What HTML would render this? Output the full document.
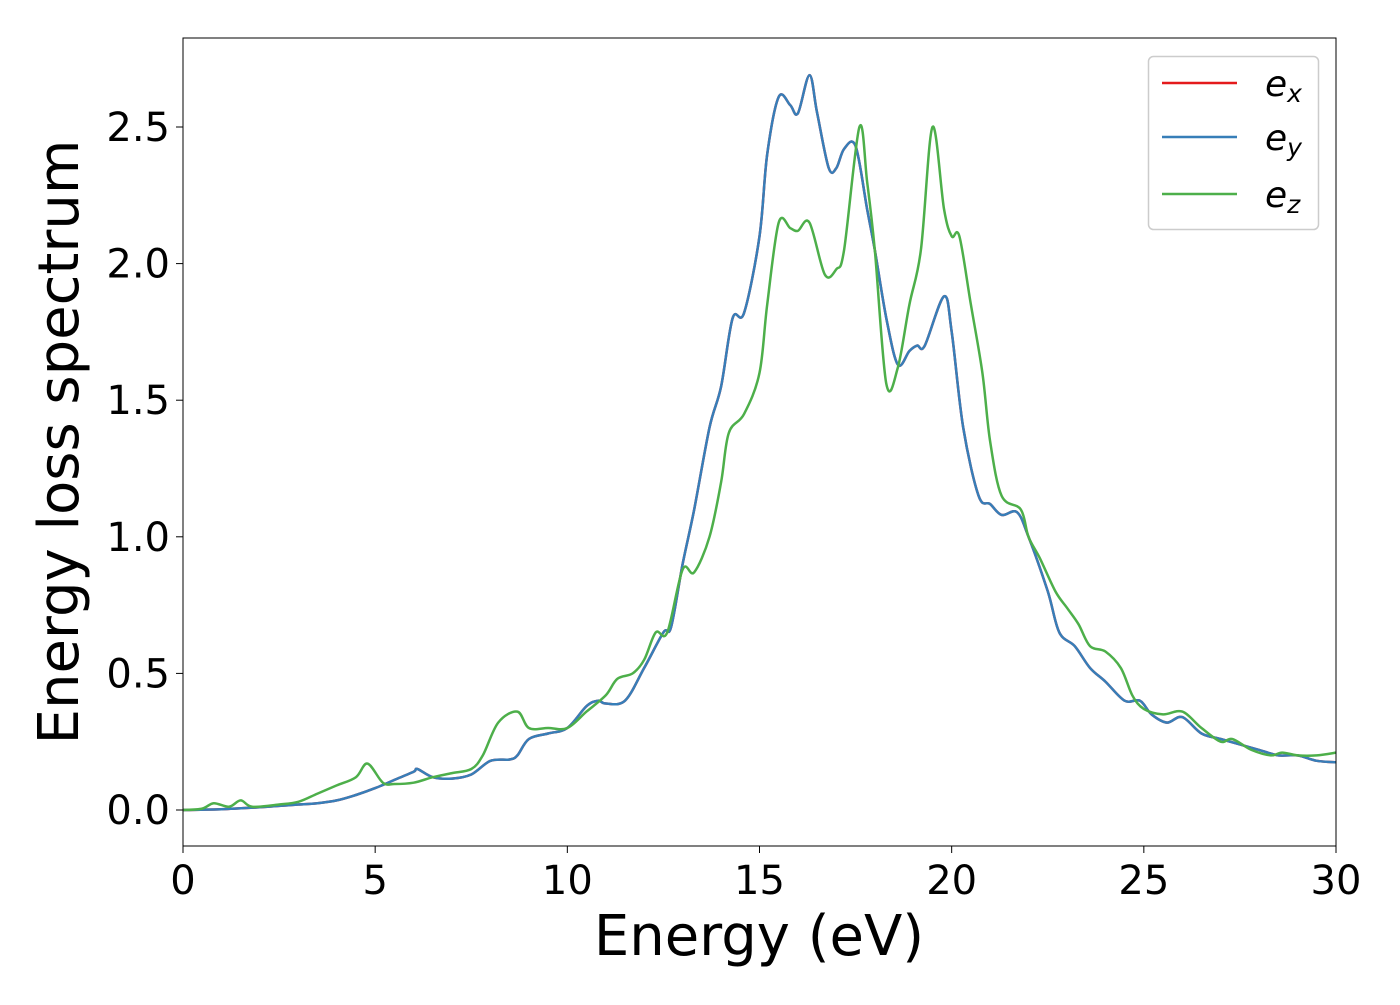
<!DOCTYPE html>
<html><head><meta charset="utf-8"><style>
html,body{margin:0;padding:0;background:#fff;}
svg text{font-family:"DejaVu Sans","Liberation Sans",sans-serif;}
</style></head><body>
<svg id="chart" width="1400" height="1000" xmlns="http://www.w3.org/2000/svg">
<rect x="0" y="0" width="1400" height="1000" fill="#fff"/>
<g id="plot"></g>
<rect x="183" y="38" width="1153" height="808" fill="none" stroke="#000" stroke-width="1"/>
<g id="xticks"></g>
<g id="yticks"></g>
<text x="759" y="955" font-size="56" text-anchor="middle">Energy (eV)</text>
<text transform="translate(78,442) rotate(-90)" font-size="56" text-anchor="middle">Energy loss spectrum</text>
<g>
<rect x="1148.5" y="56.5" width="170" height="173" rx="5" fill="#fff" fill-opacity="0.8" stroke="#ccc" stroke-width="1.5"/>
<g><line x1="1162" y1="83" x2="1237" y2="83" stroke="#e41a1c" stroke-width="2.5"/><text x="1265" y="96" font-size="36" font-style="italic">e<tspan font-size="25" dy="6">x</tspan></text></g>
<g><line x1="1162" y1="137" x2="1237" y2="137" stroke="#377eb8" stroke-width="2.5"/><text x="1265" y="150" font-size="36" font-style="italic">e<tspan font-size="25" dy="6">y</tspan></text></g>
<g><line x1="1162" y1="194" x2="1237" y2="194" stroke="#4daf4a" stroke-width="2.5"/><text x="1265" y="207" font-size="36" font-style="italic">e<tspan font-size="25" dy="6">z</tspan></text></g>
</g>
</svg>
<script>
const xTicks=[0,5,10,15,20,25,30];
const yTicks=[0.0,0.5,1.0,1.5,2.0,2.5];
const yTickLabels=["0.0","0.5","1.0","1.5","2.0","2.5"];
const exyX=[0,1,2,2.5,3,3.5,4,4.5,5,5.5,6,6.1,6.5,7,7.5,8,8.5,8.7,9,9.5,10,10.5,10.8,11,11.5,12,12.5,12.7,13,13.3,13.7,14,14.3,14.6,15,15.2,15.5,15.8,16,16.3,16.5,16.8,17,17.2,17.5,17.8,18,18.3,18.6,18.9,19.1,19.3,19.8,20,20.3,20.7,21,21.3,21.7,22,22.5,22.8,23.2,23.6,24,24.5,24.9,25.2,25.6,26,26.5,27,27.5,28,28.5,29,29.5,30];
const exyY=[0,0.003,0.01,0.015,0.02,0.025,0.035,0.055,0.08,0.11,0.14,0.15,0.12,0.115,0.13,0.18,0.185,0.2,0.26,0.28,0.3,0.38,0.4,0.39,0.4,0.52,0.65,0.67,0.9,1.1,1.4,1.55,1.8,1.82,2.1,2.4,2.61,2.58,2.55,2.69,2.55,2.35,2.35,2.42,2.43,2.2,2.05,1.8,1.63,1.68,1.7,1.7,1.88,1.75,1.4,1.15,1.12,1.08,1.09,1.0,0.8,0.65,0.6,0.52,0.47,0.4,0.4,0.35,0.32,0.34,0.28,0.26,0.24,0.22,0.2,0.2,0.18,0.175];
const ezX=[0,0.5,0.8,1.2,1.5,1.8,2.5,3,3.5,4,4.5,4.8,5.2,5.5,6,6.5,7,7.5,7.8,8.2,8.7,9,9.5,10,10.5,11,11.3,11.7,12,12.3,12.6,13,13.3,13.7,14,14.2,14.6,15,15.2,15.5,15.8,16,16.3,16.7,17,17.2,17.6,17.8,18,18.3,18.6,18.9,19.2,19.5,19.8,20,20.2,20.5,20.8,21,21.3,21.8,22,22.3,22.7,23,23.3,23.6,24,24.4,24.7,25,25.5,26,26.5,27,27.3,27.8,28.3,28.6,29,29.5,30];
const ezY=[0,0.005,0.025,0.012,0.035,0.012,0.02,0.03,0.06,0.09,0.12,0.17,0.1,0.095,0.1,0.12,0.135,0.15,0.2,0.32,0.36,0.3,0.3,0.3,0.36,0.42,0.48,0.5,0.55,0.65,0.65,0.88,0.87,1.0,1.2,1.38,1.45,1.6,1.85,2.15,2.13,2.12,2.15,1.96,1.98,2.05,2.5,2.3,2.05,1.56,1.62,1.85,2.05,2.5,2.2,2.1,2.1,1.85,1.6,1.35,1.15,1.1,1.0,0.92,0.8,0.74,0.68,0.6,0.58,0.52,0.42,0.37,0.35,0.36,0.3,0.25,0.26,0.22,0.2,0.21,0.2,0.2,0.21];
const NS="http://www.w3.org/2000/svg";
const X0=183,X1=1336,XMIN=0,XMAX=30;
const Y0=810,YPU=273.2;
function xs(v){return X0+(v-XMIN)/(XMAX-XMIN)*(X1-X0);}
function ys(v){return Y0-v*YPU;}
function pathFor(xa,ya){
  const p=xa.map((x,i)=>[xs(x),ys(ya[i])]);
  let d="M"+p[0][0].toFixed(1)+","+p[0][1].toFixed(1);
  for(let i=0;i<p.length-1;i++){
    const a=p[Math.max(i-1,0)],b=p[i],c=p[i+1],e=p[Math.min(i+2,p.length-1)];
    const c1=[b[0]+(c[0]-a[0])/6,b[1]+(c[1]-a[1])/6],c2=[c[0]-(e[0]-b[0])/6,c[1]-(e[1]-b[1])/6];
    d+="C"+c1[0].toFixed(1)+","+c1[1].toFixed(1)+" "+c2[0].toFixed(1)+","+c2[1].toFixed(1)+" "+c[0].toFixed(1)+","+c[1].toFixed(1);
  }
  return d;
}
const plot=document.getElementById('plot');
function addLine(xa,ya,color,name){
  const el=document.createElementNS(NS,'path');
  el.setAttribute('d',pathFor(xa,ya));el.setAttribute('fill','none');
  el.setAttribute('stroke',color);el.setAttribute('stroke-width','2.5');
  
  
  plot.appendChild(el);
}
addLine(exyX,exyY,'#e41a1c','series-ex');
addLine(exyX,exyY,'#377eb8','series-ey');
addLine(ezX,ezY,'#4daf4a','series-ez');
const xg=document.getElementById('xticks');
xTicks.forEach(t=>{
  const l=document.createElementNS(NS,'line');
  l.setAttribute('x1',xs(t));l.setAttribute('x2',xs(t));l.setAttribute('y1',846);l.setAttribute('y2',853);l.setAttribute('stroke','#000');
  
  
  xg.appendChild(l);
  const tx=document.createElementNS(NS,'text');
  tx.setAttribute('x',xs(t));tx.setAttribute('y',894);tx.setAttribute('font-size','40');tx.setAttribute('text-anchor','middle');
  tx.textContent=String(t);
  
  
  xg.appendChild(tx);
});
const yg=document.getElementById('yticks');
yTicks.forEach((t,i)=>{
  const l=document.createElementNS(NS,'line');
  l.setAttribute('x1',176);l.setAttribute('x2',183);l.setAttribute('y1',ys(t));l.setAttribute('y2',ys(t));l.setAttribute('stroke','#000');
  
  
  yg.appendChild(l);
  const tx=document.createElementNS(NS,'text');
  tx.setAttribute('x',170);tx.setAttribute('y',ys(t)+14);tx.setAttribute('font-size','40');tx.setAttribute('text-anchor','end');
  tx.textContent=yTickLabels[i];
  
  
  yg.appendChild(tx);
});
</script>
</body></html>
